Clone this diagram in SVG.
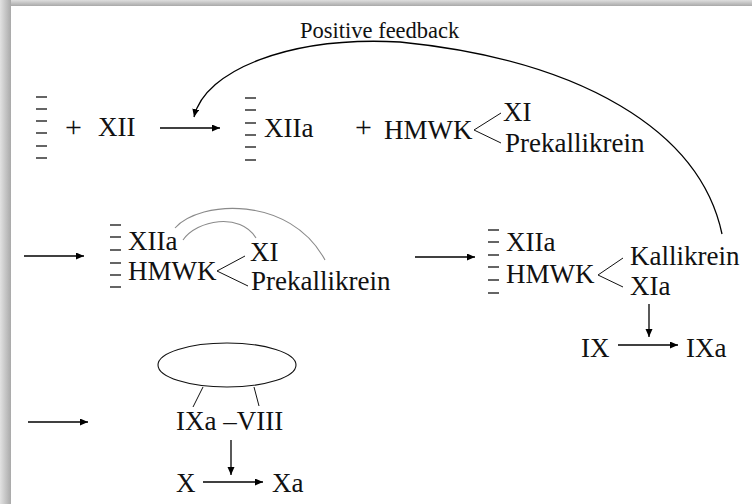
<svg xmlns="http://www.w3.org/2000/svg" width="752" height="504" viewBox="0 0 752 504">
<defs>
<linearGradient id="gTop" x1="0" y1="0" x2="0" y2="1"><stop offset="0" stop-color="#dedede"/><stop offset="1" stop-color="#a9a9a9"/></linearGradient>
<linearGradient id="gLeft" x1="0" y1="0" x2="1" y2="0"><stop offset="0" stop-color="#e2e2e2"/><stop offset="1" stop-color="#a9a9a9"/></linearGradient>
<marker id="ah" markerUnits="userSpaceOnUse" markerWidth="10" markerHeight="8" refX="8" refY="3.5" orient="auto"><path d="M0,0 L8,3.5 L0,7 z" fill="#000"/></marker>
<style>
text{font-family:"Liberation Serif","Times New Roman",serif;font-size:27px;fill:#111}
.small{font-size:22.5px}
.plus{font-size:30px}
.arr{stroke:#000;stroke-width:1.3;fill:none;marker-end:url(#ah)}
.ln{stroke:#111;stroke-width:1;fill:none}
.gray{stroke:#8a8a8a;stroke-width:1.1;fill:none}
.dash{stroke:#333;stroke-width:1.6}
</style>
</defs>
<rect width="752" height="504" fill="#fff"/>
<rect x="0" y="0" width="752" height="6" fill="url(#gTop)"/>
<rect x="0" y="0" width="11" height="504" fill="url(#gLeft)"/>

<g id="connectors">
<path class="arr" d="M722,234 C700,130 580,60 400,42 C290,36 205,70 194,117"/>
<line class="arr" x1="160" y1="128" x2="220" y2="128"/>
<line class="arr" x1="24" y1="256" x2="84" y2="256"/>
<line class="arr" x1="415" y1="257" x2="475" y2="257"/>
<line class="arr" x1="649" y1="304" x2="649" y2="337"/>
<line class="arr" x1="618" y1="345" x2="678" y2="345"/>
<line class="arr" x1="28" y1="422" x2="88" y2="422"/>
<line class="arr" x1="231" y1="440" x2="231" y2="475"/>
<line class="arr" x1="203" y1="482" x2="263" y2="482"/>
<path class="gray" d="M183,240 C197,220 240,212 256,238"/>
<path class="gray" d="M175,228 C200,200 290,195 325,260"/>
</g>

<g id="feedback-label"><text class="small" x="300" y="38">Positive feedback</text></g>

<g id="surface1">
<path class="dash" d="M36,97h11M36,109h11M36,121h11M36,133h11M36,146h11M36,158h11"/>
</g>
<g id="plus1"><text class="plus" x="65" y="137">+</text></g>
<g id="xii"><text x="98" y="136">XII</text></g>

<g id="surface2">
<path class="dash" d="M245,98h11M245,110h11M245,123h11M245,135h11M245,147h11M245,160h11"/>
<text x="264" y="137">XIIa</text>
</g>
<g id="plus2"><text class="plus" x="355" y="137">+</text></g>
<g id="hmwk1">
<text x="384" y="139">HMWK</text>
<path class="ln" d="M501,113 L474,130 L501,143"/>
<text x="503" y="121">XI</text>
<text x="505" y="152">Prekallikrein</text>
</g>

<g id="complex1">
<path class="dash" d="M110,225h11M110,237h11M110,250h11M110,263h11M110,275h11M110,287h11"/>
<text x="128" y="250">XIIa</text>
<text x="128" y="280">HMWK</text>
<path class="ln" d="M245,256 L217,271 L248,286"/>
<text x="250" y="261">XI</text>
<text x="251" y="290">Prekallikrein</text>
</g>

<g id="complex2">
<path class="dash" d="M488,230h11M488,242h11M488,255h11M488,267h11M488,280h11M488,293h11"/>
<text x="506" y="251">XIIa</text>
<text x="506" y="283">HMWK</text>
<path class="ln" d="M623,258 L598,275 L623,287"/>
<text x="630" y="265">Kallikrein</text>
<text x="630" y="295">XIa</text>
</g>

<g id="ix"><text x="581" y="357">IX</text></g>
<g id="ixa"><text x="686" y="357">IXa</text></g>

<g id="tenase">
<ellipse cx="227" cy="365" rx="69" ry="22" fill="none" stroke="#111" stroke-width="1.1"/>
<path class="ln" d="M203,387 L193,407 M254,387 L259,406"/>
<text x="176" y="430">IXa –VIII</text>
</g>
<g id="x"><text x="176" y="492">X</text></g>
<g id="xa"><text x="272" y="492">Xa</text></g>
</svg>
